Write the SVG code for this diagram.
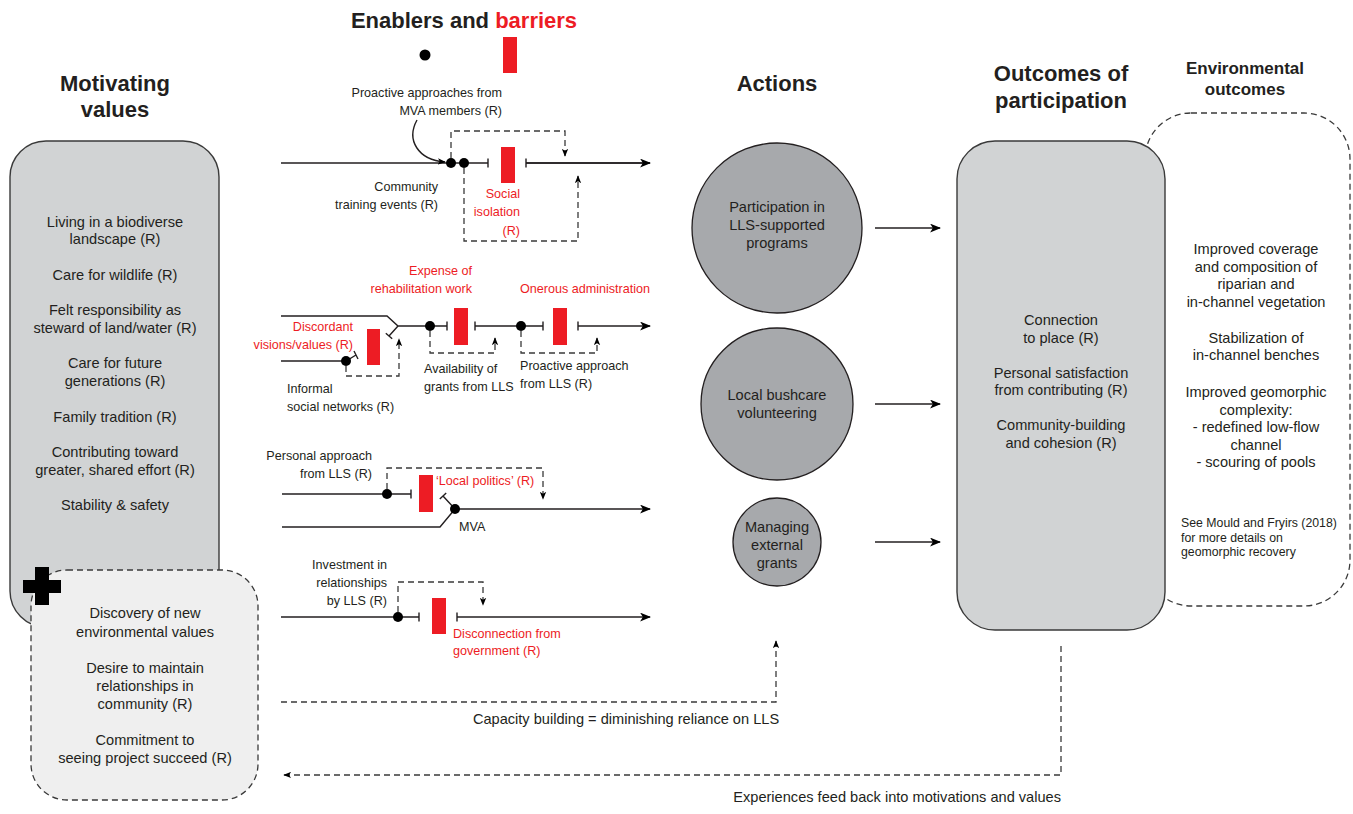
<svg xmlns="http://www.w3.org/2000/svg" width="1353" height="814" viewBox="0 0 1353 814">
<style>
text{font-family:"Liberation Sans",Arial,sans-serif;fill:#231f20}
.h{font-weight:bold;font-size:22px}
.h2{font-weight:bold;font-size:17px}
.m{font-size:14.6px}
.s{font-size:12.6px}
.xs{font-size:12.3px}
.r{fill:#ed1c24}
.c{text-anchor:middle}
.e{text-anchor:end}
.ln{fill:none;stroke:#231f20;stroke-width:1.4}
.ds{fill:none;stroke:#3a3a3a;stroke-width:1.3;stroke-dasharray:6 4}
.bar{fill:#ed1c24}
.dot{fill:#000}
.box{fill:#d1d3d4;stroke:#3a3a3a;stroke-width:1.4}
.act{fill:#a7a9ac;stroke:#231f20;stroke-width:1.3}
</style>
<defs>
<marker id="ah" viewBox="0 0 10 8" refX="9" refY="4" markerWidth="11" markerHeight="9" markerUnits="userSpaceOnUse" orient="auto"><path d="M0,0 L10,4 L0,8 L2.5,4 z" fill="#000"/></marker>
<marker id="ahs" viewBox="0 0 10 8" refX="9" refY="4" markerWidth="8" markerHeight="7" markerUnits="userSpaceOnUse" orient="auto"><path d="M0,0 L10,4 L0,8 L2.5,4 z" fill="#000"/></marker>
</defs>

<rect width="1353" height="814" fill="#fff"/>

<!-- Titles -->
<g id="titles">
<text class="h c" x="115" y="91">Motivating</text>
<text class="h c" x="115" y="117">values</text>
<text class="h c" x="464" y="28">Enablers and <tspan class="r">barriers</tspan></text>
<text class="h c" x="777" y="91">Actions</text>
<text class="h c" x="1061" y="81">Outcomes of</text>
<text class="h c" x="1061" y="108">participation</text>
<text class="h2 c" x="1245" y="74">Environmental</text>
<text class="h2 c" x="1245" y="95">outcomes</text>
</g>

<!-- Legend -->
<g id="legend">
<circle class="dot" cx="425" cy="55" r="5.5"/>
<rect class="bar" x="503" y="37" width="14" height="36"/>
</g>

<!-- Motivating values box -->
<g id="motivating-values">
<rect class="box" x="10" y="141" width="209" height="486" rx="36"/>
<text class="m c" x="115" y="227">Living in a biodiverse</text>
<text class="m c" x="115" y="244">landscape (R)</text>
<text class="m c" x="115" y="280">Care for wildlife (R)</text>
<text class="m c" x="115" y="315">Felt responsibility as</text>
<text class="m c" x="115" y="333">steward of land/water (R)</text>
<text class="m c" x="115" y="368">Care for future</text>
<text class="m c" x="115" y="386">generations (R)</text>
<text class="m c" x="115" y="422">Family tradition (R)</text>
<text class="m c" x="115" y="457">Contributing toward</text>
<text class="m c" x="115" y="475">greater, shared effort (R)</text>
<text class="m c" x="115" y="510">Stability &amp; safety</text>
</g>

<g id="new-values">
<rect x="31" y="570" width="227" height="230" rx="36" fill="#efefef" stroke="#3a3a3a" stroke-width="1.3" stroke-dasharray="6 4"/>
<path d="M23,580 H61 V593 H23 z M35,567 H49 V605 H35 z" fill="#000"/>
<text class="m c" x="145" y="618">Discovery of new</text>
<text class="m c" x="145" y="637">environmental values</text>
<text class="m c" x="145" y="673">Desire to maintain</text>
<text class="m c" x="145" y="691">relationships in</text>
<text class="m c" x="145" y="709">community (R)</text>
<text class="m c" x="145" y="745">Commitment to</text>
<text class="m c" x="145" y="763">seeing project succeed (R)</text>
</g>

<!-- Enabler / barrier rows -->
<g id="row1">
<path class="ln" d="M281,163 H488 M488,158.5 V167.5 M526,158.5 V167.5 M526,163 H650" />
<path class="ln" d="M526,163 H650" marker-end="url(#ah)"/>
<rect class="bar" x="501" y="147" width="14" height="36"/>
<circle class="dot" cx="451" cy="163" r="5"/>
<circle class="dot" cx="464" cy="163" r="5"/>
<text class="s e" x="502" y="97">Proactive approaches from</text>
<text class="s e" x="502" y="115">MVA members (R)</text>
<text class="s e" x="438" y="191">Community</text>
<text class="s e" x="438" y="209">training events (R)</text>
<text class="s e r" x="520" y="198">Social</text>
<text class="s e r" x="520" y="216">isolation</text>
<text class="s e r" x="520" y="235">(R)</text>
</g>

<g id="row2">
<path class="ln" d="M281,316 H387 L398,326 H447 M447,321.5 V330.5 M475,321.5 V330.5 M475,326 H543 M543,321.5 V330.5"/>
<path class="ln" d="M578,326 H650" marker-end="url(#ah)"/>
<path class="ln" d="M578,321.5 V330.5"/>
<path class="ln" d="M398,326 L389,336 M385.8,333.2 L392.2,338.8"/>
<path class="ln" d="M281,361 H346 L356,355 M354,351 L358,359"/>
<rect class="bar" x="367" y="329" width="13" height="36"/>
<rect class="bar" x="454" y="308" width="14" height="37"/>
<rect class="bar" x="553" y="308" width="14" height="37"/>
<circle class="dot" cx="346" cy="361" r="5"/>
<circle class="dot" cx="430" cy="326" r="5"/>
<circle class="dot" cx="521" cy="326" r="5"/>
<text class="s e r" x="472" y="275">Expense of</text>
<text class="s e r" x="472" y="293">rehabilitation work</text>
<text class="s c r" x="585" y="293">Onerous administration</text>
<text class="s e r" x="353" y="331">Discordant</text>
<text class="s e r" x="353" y="349">visions/values (R)</text>
<text class="s" x="287" y="393">Informal</text>
<text class="s" x="287" y="411">social networks (R)</text>
<text class="s" x="424" y="373">Availability of</text>
<text class="s" x="424" y="391">grants from LLS</text>
<text class="s" x="520" y="370">Proactive approach</text>
<text class="s" x="520" y="388">from LLS (R)</text>
</g>

<g id="row3">
<path class="ln" d="M282,494 H411 M411,489.5 V498.5"/>
<path class="ln" d="M282,527 H440 L455,509 H650" marker-end="url(#ah)"/>
<path class="ln" d="M455,509 L443,496 M439.8,499 L446.2,493"/>
<rect class="bar" x="419" y="475" width="14" height="37"/>
<circle class="dot" cx="387" cy="494" r="5"/>
<circle class="dot" cx="455" cy="509" r="5"/>
<text class="s e" x="372" y="460">Personal approach</text>
<text class="s e" x="372" y="478">from LLS (R)</text>
<text class="s r" x="436" y="485">‘Local politics’ (R)</text>
<text class="s" x="459" y="531">MVA</text>
</g>

<g id="row4">
<path class="ln" d="M281,617 H419 M419,612.5 V621.5 M457,612.5 V621.5"/>
<path class="ln" d="M457,617 H650" marker-end="url(#ah)"/>
<rect class="bar" x="432" y="598" width="14" height="36"/>
<circle class="dot" cx="398" cy="617" r="5"/>
<text class="s e" x="387" y="569">Investment in</text>
<text class="s e" x="387" y="587">relationships</text>
<text class="s e" x="387" y="605">by LLS (R)</text>
<text class="s r" x="453" y="638">Disconnection from</text>
<text class="s r" x="453" y="655">government (R)</text>
</g>

<!-- Actions -->
<g id="action-participation">
<circle class="act" cx="777" cy="228" r="85"/>
<text class="m c" x="777" y="212">Participation in</text>
<text class="m c" x="777" y="230">LLS-supported</text>
<text class="m c" x="777" y="248">programs</text>
</g>
<g id="action-bushcare">
<circle class="act" cx="777" cy="404" r="76"/>
<text class="m c" x="777" y="400">Local bushcare</text>
<text class="m c" x="777" y="418">volunteering</text>
</g>
<g id="action-grants">
<circle class="act" cx="777" cy="542" r="44"/>
<text class="m c" x="777" y="532">Managing</text>
<text class="m c" x="777" y="550">external</text>
<text class="m c" x="777" y="568">grants</text>
</g>

<!-- Environmental outcomes (behind) -->
<g id="environmental-outcomes">
<rect x="1145" y="113" width="205" height="493" rx="46" fill="none" stroke="#3a3a3a" stroke-width="1.3" stroke-dasharray="6 4"/>
<text class="m c" x="1256" y="254">Improved coverage</text>
<text class="m c" x="1256" y="272">and composition of</text>
<text class="m c" x="1256" y="289">riparian and</text>
<text class="m c" x="1256" y="307">in-channel vegetation</text>
<text class="m c" x="1256" y="343">Stabilization of</text>
<text class="m c" x="1256" y="360">in-channel benches</text>
<text class="m c" x="1256" y="397">Improved geomorphic</text>
<text class="m c" x="1256" y="415">complexity:</text>
<text class="m c" x="1256" y="432">- redefined low-flow</text>
<text class="m c" x="1256" y="450">channel</text>
<text class="m c" x="1256" y="467">- scouring of pools</text>
<text class="xs" x="1181" y="527">See Mould and Fryirs (2018)</text>
<text class="xs" x="1181" y="542">for more details on</text>
<text class="xs" x="1181" y="556">geomorphic recovery</text>
</g>

<!-- Outcomes of participation -->
<g id="outcomes">
<rect class="box" x="957" y="141" width="208" height="489" rx="38"/>
<text class="m c" x="1061" y="325">Connection</text>
<text class="m c" x="1061" y="343">to place (R)</text>
<text class="m c" x="1061" y="378">Personal satisfaction</text>
<text class="m c" x="1061" y="395">from contributing (R)</text>
<text class="m c" x="1061" y="430">Community-building</text>
<text class="m c" x="1061" y="448">and cohesion (R)</text>
</g>

<!-- Connectors -->
<g id="connectors">
<path class="ln" d="M417,120 C406,140 418,160 445,162" marker-end="url(#ahs)"/>
<path class="ds" d="M451,158 V131 H565 V156" marker-end="url(#ahs)"/>
<path class="ds" d="M464,168 V241 H578 V176" marker-end="url(#ahs)"/>
<path class="ds" d="M346,366 V376 H399 V339" marker-end="url(#ahs)"/>
<path class="ds" d="M430,331 V353 H495 V338" marker-end="url(#ahs)"/>
<path class="ds" d="M521,331 V353 H597 V338" marker-end="url(#ahs)"/>
<path class="ds" d="M387,489 V468 H543 V499" marker-end="url(#ahs)"/>
<path class="ds" d="M398,612 V582 H483 V605" marker-end="url(#ahs)"/>
<path class="ln" d="M875,228 H940" marker-end="url(#ah)"/>
<path class="ln" d="M875,404 H940" marker-end="url(#ah)"/>
<path class="ln" d="M875,542 H940" marker-end="url(#ah)"/>
<path class="ds" d="M281,702 H776 V641" marker-end="url(#ahs)"/>
<path class="ds" d="M1061,646 V775 H284" marker-end="url(#ahs)"/>
<text class="m c" x="626" y="724">Capacity building = diminishing reliance on LLS</text>
<text class="m e" x="1061" y="802">Experiences feed back into motivations and values</text>
</g>
</svg>
